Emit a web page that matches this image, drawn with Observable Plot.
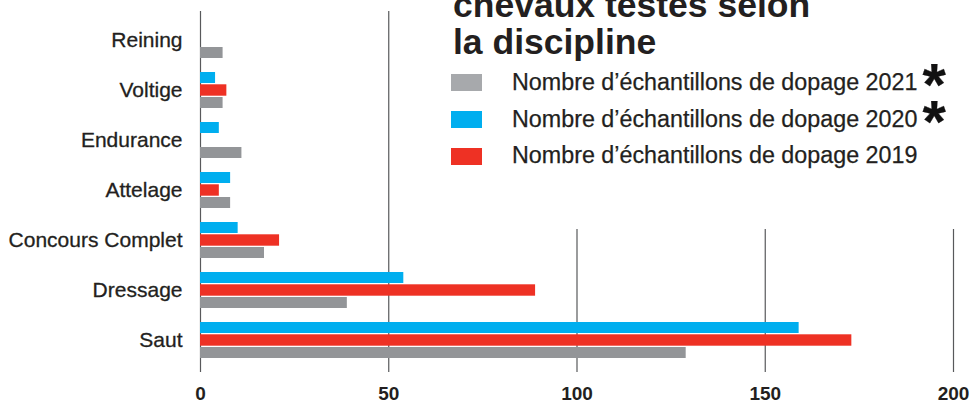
<!DOCTYPE html>
<html>
<head>
<meta charset="utf-8">
<script src="https://cdn.jsdelivr.net/npm/d3@7"></script>
<script src="https://cdn.jsdelivr.net/npm/@observablehq/plot@0.6"></script>
<style>
  body { margin: 0; background: #fff; font-family: "Liberation Sans", Arial, sans-serif; color: #231f20; }
  #wrap { position: relative; width: 971px; height: 406px; overflow: hidden; background: #fff; }
  #wrap svg { position: absolute; left: 0; top: 0; }
  #overlay { position: absolute; left: 440px; top: 0; width: 531px; height: 229px; background: #fff; }
  #title { position: absolute; left: 13px; top: -13px; font-size: 35.5px; font-weight: bold; line-height: 37px; white-space: nowrap; color: #231f20; }
  .sw { position: absolute; left: 11px; width: 31px; height: 17px; }
  .lt { position: absolute; left: 72px; font-size: 23.3px; line-height: 23px; white-space: nowrap; color: #231f20; -webkit-text-stroke: 0.25px #231f20; }
  .ast { font-size: 60px; font-weight: bold; line-height: 0; position: relative; top: 15px; margin-left: 5px; color: #111; }
</style>
</head>
<body>
<div id="wrap">
  <div id="overlay">
    <div id="title"></div>
  </div>
</div>
<script>
// ---- data ----
const categories = ["Reining", "Voltige", "Endurance", "Attelage", "Concours Complet", "Dressage", "Saut"];
const values2021 = [6, 6, 11, 8, 17, 39, 129];
const values2020 = [0, 4, 5, 8, 10, 54, 159];
const values2019 = [0, 7, 0, 5, 21, 89, 173];
const xTicks = [0, 50, 100, 150, 200];
const seriesKeys = ["2021", "2020", "2019"];
const seriesLabels = [
  "Nombre d’échantillons de dopage 2021",
  "Nombre d’échantillons de dopage 2020",
  "Nombre d’échantillons de dopage 2019"
];
const seriesStars = [true, true, false];
const titleLines = ["chevaux testés selon", "la discipline"];

const barColors = { "2021": "#939598", "2020": "#00aeef", "2019": "#ee3124" };
const swatchColors = { "2021": "#a7a9ac", "2020": "#00aeef", "2019": "#ee3124" };

const rows = [];
categories.forEach((c, i) => {
  rows.push({ category: c, series: "2021", value: values2021[i] });
  rows.push({ category: c, series: "2020", value: values2020[i] });
  rows.push({ category: c, series: "2019", value: values2019[i] });
});
const bySeries = s => rows.filter(d => d.series === s);

const chart = Plot.plot({
  width: 971,
  height: 406,
  marginLeft: 200,
  marginRight: 18,
  marginTop: 11,
  marginBottom: 36,
  x: { domain: [0, 200], axis: null },
  y: { domain: categories, axis: null, paddingInner: 0.272, paddingOuter: 0.165 },
  style: { fontFamily: "Liberation Sans, Arial, sans-serif", color: "#231f20", background: "#fff" },
  marks: [
    Plot.ruleX(xTicks, { x: d => d, stroke: "#58595b", strokeWidth: 1.2, insetBottom: -2 }),
    Plot.barX(bySeries("2020"), { x: "value", y: "category", fill: barColors["2020"], insetTop: 0, insetBottom: 25 }),
    Plot.barX(bySeries("2019"), { x: "value", y: "category", fill: barColors["2019"], insetTop: 12.3, insetBottom: 12.3 }),
    Plot.barX(bySeries("2021"), { x: "value", y: "category", fill: barColors["2021"], insetTop: 25, insetBottom: 0 }),
    Plot.text(categories, { x: 0, y: d => d, dx: -18, textAnchor: "end", fontSize: 21, fill: "#231f20", stroke: "#231f20", strokeWidth: 0.3 }),
    Plot.text(xTicks, { x: d => d, frameAnchor: "bottom", dy: 29, fontSize: 19, fontWeight: "bold", fill: "#231f20" })
  ]
});

const wrap = document.getElementById("wrap");
wrap.insertBefore(chart, wrap.firstChild);

// title
const title = document.getElementById("title");
title.innerHTML = titleLines.join("<br>");

// legend
const overlay = document.getElementById("overlay");
const swatchTops = [74, 111, 148];
seriesKeys.forEach((k, i) => {
  const sw = document.createElement("div");
  sw.className = "sw";
  sw.style.top = swatchTops[i] + "px";
  sw.style.background = swatchColors[k];
  overlay.appendChild(sw);
  const lt = document.createElement("div");
  lt.className = "lt";
  lt.style.top = (swatchTops[i] - 4.5) + "px";
  lt.textContent = seriesLabels[i];
  if (seriesStars[i]) {
    const st = document.createElement("span");
    st.className = "ast";
    st.textContent = "*";
    lt.appendChild(st);
  }
  overlay.appendChild(lt);
});
</script>
</body>
</html>
